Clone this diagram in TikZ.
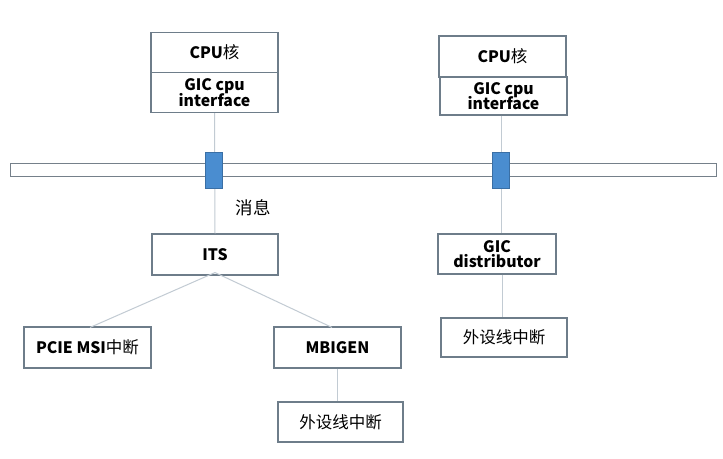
\documentclass[tikz,border=0pt]{standalone}
\usepackage{fontspec}
\setmainfont{Noto Sans CJK SC}
\begin{document}
\begin{tikzpicture}[x=1pt,y=-1pt,
  box/.style={draw=boxc,line width=1.1pt,fill=white,inner sep=0pt,align=center,font=\fontsize{15.8}{17.5}\selectfont},
  cjk/.style={font=\fontsize{16.5}{18}\selectfont},
  link/.style={draw=linec,line width=1pt},
  port/.style={draw=portd,fill=portc,line width=0.8pt,minimum width=17pt,minimum height=36pt,inner sep=0pt}]
\definecolor{boxc}{HTML}{6E7D8A}
\definecolor{linec}{HTML}{C2CBD3}
\definecolor{portc}{HTML}{4A8DD0}
\definecolor{portd}{HTML}{3A6FA5}
\definecolor{busc}{HTML}{75808A}
\useasboundingbox (0,0) rectangle (723,458);
\fill[white] (0,0) rectangle (723,458);
% nodes
\node[box,minimum width=127pt,minimum height=40pt] (cpuL) at (214.5,52.5) {\bfseries CPU\mdseries\fontsize{16.5}{18}\selectfont 核};
\node[box,minimum width=127pt,minimum height=40pt] (gicL) at (214.5,92.5) {\bfseries GIC cpu\\[-2pt]\bfseries interface};
\node[box,minimum width=127pt,minimum height=41pt] (cpuR) at (502.5,56.5) {\bfseries CPU\mdseries\fontsize{16.5}{18}\selectfont 核};
\node[box,minimum width=127pt,minimum height=38pt] (gicR) at (503.5,96) {\bfseries GIC cpu\\[-2pt]\bfseries interface};
\node[box,minimum width=126pt,minimum height=41pt] (its) at (215,254.5) {\bfseries ITS};
\node[box,minimum width=118pt,minimum height=40pt] (gicD) at (497,254) {\bfseries GIC\\[-2pt]\bfseries distributor};
\node[box,cjk,minimum width=126pt,minimum height=39pt] (irqR) at (504,337.5) {外设线中断};
\node[box,minimum width=127pt,minimum height=41pt] (pcie) at (87.5,347.5) {\bfseries PCIE MSI\mdseries\fontsize{16.5}{18}\selectfont 中断};
\node[box,minimum width=127pt,minimum height=41pt] (mbigen) at (337.5,347.5) {\bfseries MBIGEN};
\node[box,cjk,minimum width=125pt,minimum height=40pt] (irqB) at (340.5,422) {外设线中断};
\node[font=\fontsize{17.5}{19}\selectfont] (msg) at (253,208) {消息};
% connectors
\coordinate (gicRb) at ([xshift=-2pt]gicR.south);
\coordinate (gicDb) at ([xshift=5pt]gicD.south);
\draw[link] (gicL.south) -- (its.north);
\draw[link] (gicRb) -- (gicRb |- gicD.north);
\draw[link] ([yshift=3pt]its.south) -- ([xshift=2.5pt,yshift=-1pt]pcie.north);
\draw[link] ([yshift=3pt]its.south) -- ([xshift=-5.5pt,yshift=-1pt]mbigen.north);
\draw[link] (mbigen.south) -- (mbigen.south |- irqB.north);
\draw[link] (gicDb) -- (gicDb |- irqR.north);
% bus and ports
\node[draw=busc,fill=white,line width=1pt,minimum width=706pt,minimum height=13pt,inner sep=0pt] (bus) at (363,169.5) {};
\node[port] (portL) at (213.5,170) {};
\node[port] (portR) at (500.5,170) {};
\end{tikzpicture}
\end{document}
